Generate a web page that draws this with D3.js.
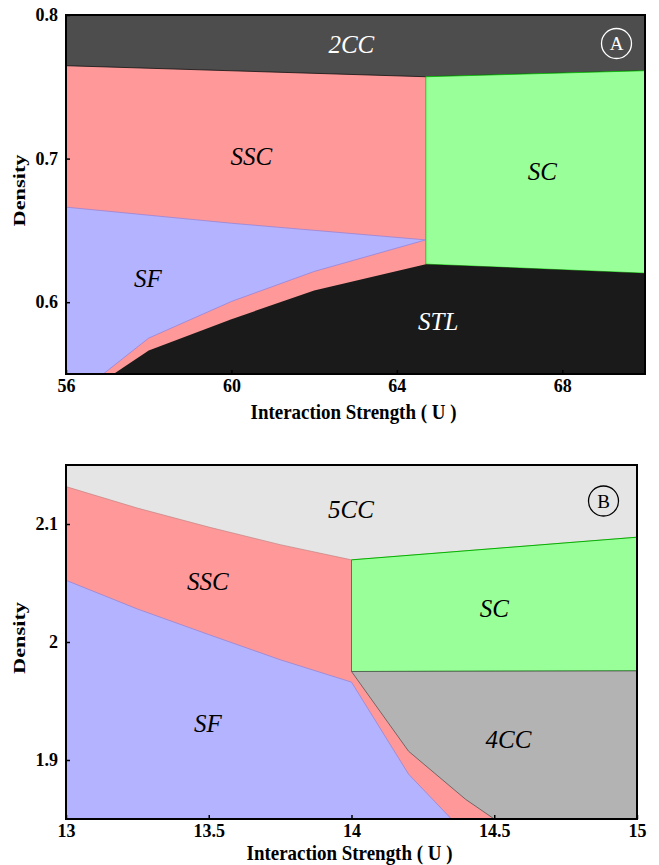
<!DOCTYPE html>
<html>
<head>
<meta charset="utf-8">
<script src="https://cdn.jsdelivr.net/npm/d3@7"></script>
<style>
  body { margin: 0; background: #fff; }
  svg { display: block; }
</style>
</head>
<body>
<div id="chart"></div>
<script>
// ---- Panel A data (U from 56 to 70, density from 0.55 to 0.8) ----
const xTicksA = [56, 60, 64, 68];
const yTicksA = [0.6, 0.7, 0.8];
// phase boundaries, each point is [U, density]
const ccTopA = [[56, 0.7647], [64.7, 0.757], [70, 0.7612]];          // lower edge of 2CC
const scBottomA = [[64.7, 0.6265], [70, 0.6202]];                    // SC / STL
const sfUpperA = [[56, 0.6662], [58, 0.6606], [60, 0.655], [64.7, 0.6434]];
const sfLowerA = [[56.9, 0.55], [58, 0.575], [60, 0.6005], [62, 0.6214], [64.7, 0.6434]];
const stlTopA = [[57.15, 0.55], [58, 0.5664], [60, 0.5882], [62, 0.6081], [64.7, 0.6265]];

// ---- Panel B data (U from 13 to 15, density from 1.85 to 2.15) ----
const xTicksB = [13, 13.5, 14, 14.5, 15];
const yTicksB = [1.9, 2, 2.1];
const ccTopB = [[13, 2.1317], [13.25, 2.1135], [13.5, 2.0974], [13.75, 2.0825], [14, 2.0696]]; // lower edge of 5CC
const scTopB = [[14, 2.0696], [15, 2.0888]];
const scBottomB = [[14, 1.975], [15, 1.9755]];
const sfUpperB = [[13, 2.0523], [13.25, 2.028], [13.5, 2.0063], [13.75, 1.985], [14, 1.966]];
const sfLowerB = [[14, 1.966], [14.2, 1.888], [14.35, 1.85]];
const cc4LowerB = [[14, 1.975], [14.2, 1.9074], [14.4, 1.8666], [14.5, 1.85]];

const serif = "'Liberation Serif', 'Times New Roman', serif";
const colors = {
  ssc: "#ff9999", sc: "#99ff99", sf: "#b3b3ff",
  cc2: "#4d4d4d", stl: "#1a1a1a", cc5: "#e5e5e5", cc4: "#b3b3b3"
};

const svg = d3.select("#chart").append("svg")
  .attr("width", 659).attr("height", 865)
  .style("font-family", serif);

function drawPanel(cfg) {
  const x = d3.scaleLinear().domain(cfg.xDomain).range([cfg.left, cfg.right]);
  const y = d3.scaleLinear().domain(cfg.yDomain).range([cfg.bottom, cfg.top]);
  const line = d3.line().x(d => x(d[0])).y(d => y(d[1]));

  const g = svg.append("g");
  const clipId = "clip" + cfg.id;
  g.append("clipPath").attr("id", clipId)
    .append("rect")
    .attr("x", cfg.left).attr("y", cfg.top)
    .attr("width", cfg.right - cfg.left).attr("height", cfg.bottom - cfg.top);

  const area = g.append("g").attr("clip-path", `url(#${clipId})`);
  // background phase (SSC)
  area.append("rect")
    .attr("x", cfg.left).attr("y", cfg.top)
    .attr("width", cfg.right - cfg.left).attr("height", cfg.bottom - cfg.top)
    .attr("fill", colors.ssc);

  cfg.regions.forEach(r => {
    area.append("path")
      .attr("d", line(r.pts) + "Z")
      .attr("fill", r.fill)
      .attr("stroke", r.stroke || "none")
      .attr("stroke-width", r.sw || 0.8);
  });

  // axes
  const xAxis = d3.axisBottom(x).tickValues(cfg.xTicks)
    .tickSizeInner(-4).tickSizeOuter(0).tickPadding(5)
    .tickFormat(d => String(d));
  const yAxis = d3.axisLeft(y).tickValues(cfg.yTicks)
    .tickSizeInner(-4).tickSizeOuter(0).tickPadding(8)
    .tickFormat(d => String(d));

  const styleAxis = a => {
    a.attr("font-family", null).attr("font-size", null);
    a.select(".domain").remove();
    a.selectAll("line").attr("stroke", "#000").attr("stroke-width", 1.5);
    a.selectAll("text")
      .style("font-family", serif).style("font-size", "18px")
      .style("font-weight", "bold").attr("fill", "#000");
  };
  g.append("g").attr("transform", `translate(0,${cfg.bottom})`).call(xAxis).call(styleAxis);
  g.append("g").attr("transform", `translate(${cfg.left},0)`).call(yAxis).call(styleAxis);

  // frame
  g.append("rect")
    .attr("x", cfg.left).attr("y", cfg.top)
    .attr("width", cfg.right - cfg.left).attr("height", cfg.bottom - cfg.top)
    .attr("fill", "none").attr("stroke", "#000").attr("stroke-width", 2);

  // axis titles
  const cx = (cfg.left + cfg.right) / 2;
  g.append("text")
    .attr("x", cx - 2).attr("y", cfg.bottom + cfg.titleGap)
    .attr("text-anchor", "middle")
    .style("font-family", serif).style("font-weight", "bold").style("font-size", "21px")
    .attr("textLength", 206).attr("lengthAdjust", "spacingAndGlyphs")
    .text("Interaction Strength ( U )");
  const cy = (cfg.top + cfg.bottom) / 2 - 4;
  g.append("text")
    .attr("transform", `translate(25,${cy}) rotate(-90) scale(1,0.8)`)
    .attr("text-anchor", "middle")
    .style("font-family", serif).style("font-weight", "bold").style("font-size", "22px")
    .attr("textLength", 72).attr("lengthAdjust", "spacingAndGlyphs")
    .text("Density");

  // phase labels
  cfg.labels.forEach(l => {
    g.append("text")
      .attr("x", x(l.u)).attr("y", y(l.d))
      .attr("text-anchor", "middle")
      .style("font-family", serif).style("font-style", "italic").style("font-size", "25px")
      .attr("fill", l.color || "#000")
      .text(l.text);
  });

  // circled panel letter
  const badge = g.append("g").attr("transform", `translate(${cfg.badge.x},${cfg.badge.y})`);
  badge.append("circle").attr("r", 15)
    .attr("fill", "none").attr("stroke", cfg.badge.color).attr("stroke-width", 1.3);
  badge.append("text")
    .attr("text-anchor", "middle").attr("y", 6.5)
    .style("font-family", serif).style("font-size", "19px")
    .attr("fill", cfg.badge.color)
    .text(cfg.badge.text);
}

// ---- panel A ----
drawPanel({
  id: "A",
  left: 66, right: 645, top: 15, bottom: 374, titleGap: 45,
  xDomain: [56, 70], yDomain: [0.55, 0.8],
  xTicks: xTicksA, yTicks: yTicksA,
  regions: [
    { pts: [[56, 0.8], [70, 0.8]].concat(ccTopA.slice().reverse()), fill: colors.cc2, stroke: "#111" },
    { pts: ccTopA.slice(1).concat(scBottomA.slice().reverse()), fill: colors.sc, stroke: "#00c000" },
    { pts: sfUpperA.concat(sfLowerA.slice(0, -1).reverse()).concat([[56, 0.55]]), fill: colors.sf, stroke: "#8f80d8", sw: 0.7 },
    { pts: stlTopA.concat(scBottomA.slice(1)).concat([[70, 0.55]]), fill: colors.stl }
  ],
  labels: [
    { text: "2CC", u: 62.9, d: 0.7735, color: "#fff" },
    { text: "SSC", u: 60.48, d: 0.6955 },
    { text: "SC", u: 67.52, d: 0.6851 },
    { text: "SF", u: 57.98, d: 0.6106 },
    { text: "STL", u: 65.0, d: 0.5806, color: "#fff" }
  ],
  badge: { text: "A", x: 616.5, y: 43.5, color: "#fff" }
});

// ---- panel B ----
drawPanel({
  id: "B",
  left: 66, right: 637, top: 465, bottom: 819, titleGap: 41,
  xDomain: [13, 15], yDomain: [1.85, 2.15],
  xTicks: xTicksB, yTicks: yTicksB,
  regions: [
    { pts: [[13, 2.15], [15, 2.15]].concat(scTopB.slice().reverse()).concat(ccTopB.slice(0, -1).reverse()), fill: colors.cc5, stroke: "#c07878", sw: 0.6 },
    { pts: scTopB.concat(scBottomB.slice().reverse()), fill: colors.sc, stroke: "#00b400", sw: 1 },
    { pts: scBottomB.concat([[15, 1.85]]).concat(cc4LowerB.slice(1).reverse()), fill: colors.cc4, stroke: "#555", sw: 0.8 },
    { pts: sfUpperB.concat(sfLowerB.slice(1)).concat([[13, 1.85]]), fill: colors.sf, stroke: "#9080d0", sw: 0.7 }
  ],
  labels: [
    { text: "5CC", u: 13.998, d: 2.1051 },
    { text: "SSC", u: 13.497, d: 2.0441 },
    { text: "SC", u: 14.5, d: 2.0214 },
    { text: "SF", u: 13.497, d: 1.924 },
    { text: "4CC", u: 14.55, d: 1.91 }
  ],
  badge: { text: "B", x: 603.5, y: 501, color: "#000" }
});
</script>
</body>
</html>
